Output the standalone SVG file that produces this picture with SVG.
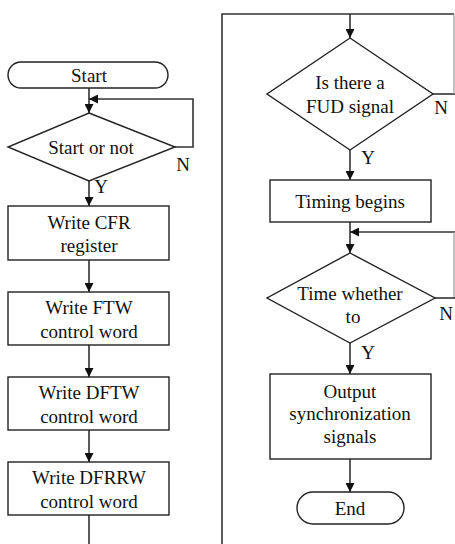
<svg xmlns="http://www.w3.org/2000/svg" width="455" height="544" viewBox="0 0 455 544">
<style>
.s{fill:#fff;stroke:#222;stroke-width:1.4}
.c{fill:none;stroke:#333;stroke-width:1.6}
.f{fill:none;stroke:#999;stroke-width:1.2}
text{font-size:19px;fill:#111;text-anchor:middle}
</style>
<defs>
<marker id="a" viewBox="0 0 10 10" refX="10" refY="5" markerWidth="9" markerHeight="9" markerUnits="userSpaceOnUse" orient="auto">
<path d="M0,0 L10,5 L0,10 Z" fill="#111"/>
</marker>
</defs>
<g id="connectors">
<line class="c" x1="89" y1="88" x2="89" y2="113" marker-end="url(#a)"/>
<polyline class="c" points="175,147 193,147 193,99 89,99" marker-end="url(#a)"/>
<line class="c" x1="89" y1="181" x2="89" y2="206" marker-end="url(#a)"/>
<line class="c" x1="89" y1="260" x2="89" y2="292" marker-end="url(#a)"/>
<line class="c" x1="89" y1="345" x2="89" y2="377" marker-end="url(#a)"/>
<line class="c" x1="89" y1="430" x2="89" y2="462" marker-end="url(#a)"/>
<line class="c" x1="89" y1="515" x2="89" y2="544"/>
<polyline class="c" points="222,544 222,14 454,14"/>
<line class="c" x1="350" y1="14" x2="350" y2="38" marker-end="url(#a)"/>
<line class="c" x1="433" y1="94" x2="455" y2="94"/>
<line class="f" x1="454" y1="14" x2="454" y2="94"/>
<line class="c" x1="350" y1="150" x2="350" y2="180" marker-end="url(#a)"/>
<line class="c" x1="350" y1="222" x2="350" y2="253" marker-end="url(#a)"/>
<line class="c" x1="455" y1="232" x2="350" y2="232" marker-end="url(#a)"/>
<line class="f" x1="454" y1="232" x2="454" y2="298"/>
<line class="c" x1="435" y1="298" x2="455" y2="298"/>
<line class="c" x1="350" y1="343" x2="350" y2="374" marker-end="url(#a)"/>
<line class="c" x1="350" y1="459" x2="350" y2="492" marker-end="url(#a)"/>
</g>
<g font-family="'Liberation Serif', 'DejaVu Serif', serif">
<g id="start">
<rect class="s" x="8" y="62" width="160" height="26" rx="13"/>
<text x="89" y="82">Start</text>
</g>
<g id="startornot">
<polygon class="s" points="89,113 175,147 89,181 8,147"/>
<text x="91" y="154">Start or not</text>
<text x="183" y="171">N</text>
<text x="101" y="193">Y</text>
</g>
<g id="cfr">
<rect class="s" x="8" y="206" width="161" height="54"/>
<text x="89" y="229">Write CFR</text>
<text x="89" y="252">register</text>
</g>
<g id="ftw">
<rect class="s" x="8" y="292" width="161" height="53"/>
<text x="89" y="314">Write FTW</text>
<text x="89" y="338">control word</text>
</g>
<g id="dftw">
<rect class="s" x="8" y="377" width="161" height="53"/>
<text x="89" y="399">Write DFTW</text>
<text x="89" y="423">control word</text>
</g>
<g id="dfrrw">
<rect class="s" x="8" y="462" width="161" height="53"/>
<text x="89" y="484">Write DFRRW</text>
<text x="89" y="508">control word</text>
</g>
<g id="fud">
<polygon class="s" points="350,38 433,94 350,150 267,94"/>
<text x="350" y="89">Is there a</text>
<text x="350" y="113">FUD signal</text>
<text x="441" y="114">N</text>
<text x="368" y="164">Y</text>
</g>
<g id="timing">
<rect class="s" x="270" y="180" width="161" height="42"/>
<text x="350" y="208">Timing begins</text>
</g>
<g id="timewhether">
<polygon class="s" points="350,253 435,298 350,343 267,298"/>
<text x="350" y="300">Time whether</text>
<text x="353" y="323">to</text>
<text x="446" y="320">N</text>
<text x="368" y="359">Y</text>
</g>
<g id="output">
<rect class="s" x="270" y="374" width="161" height="85"/>
<text x="350" y="398">Output</text>
<text x="350" y="420">synchronization</text>
<text x="350" y="443">signals</text>
</g>
<g id="end">
<rect class="s" x="297" y="492" width="107" height="32" rx="16"/>
<text x="350" y="515">End</text>
</g>
</g>
</svg>
